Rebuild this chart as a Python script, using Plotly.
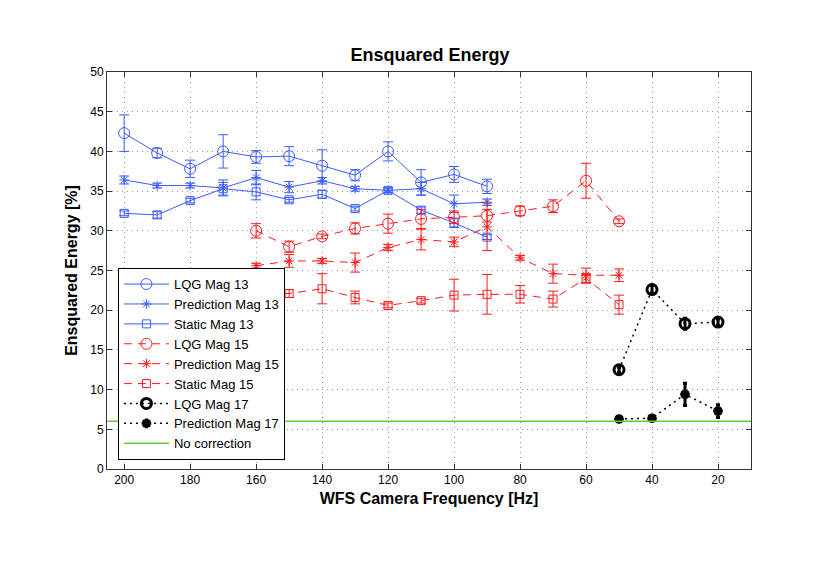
import plotly.graph_objects as go

# ---------------- data ----------------
freq13 = [200, 190, 180, 170, 160, 150, 140, 130, 120, 110, 100, 90]
lqg13 = [42.3, 39.8, 37.8, 40.0, 39.3, 39.4, 38.2, 37.0, 40.0, 36.1, 37.1, 35.6]
lqg13_err = [2.3, 0.6, 1.1, 2.1, 0.8, 1.2, 2.0, 0.7, 1.2, 1.6, 1.0, 0.9]
pred13 = [36.4, 35.7, 35.7, 35.4, 36.7, 35.5, 36.3, 35.3, 35.1, 35.3, 33.4, 33.6]
pred13_err = [0.5, 0.3, 0.3, 1.0, 0.9, 0.7, 0.4, 0.3, 0.3, 0.8, 1.1, 0.4]
static13 = [32.2, 32.0, 33.8, 35.3, 34.9, 33.9, 34.6, 32.8, 35.1, 32.6, 31.0, 29.2]
static13_err = [0.3, 0.4, 0.3, 0.8, 1.0, 0.3, 0.5, 0.3, 0.3, 0.4, 0.6, 0.3]

freq15 = [160, 150, 140, 130, 120, 110, 100, 90, 80, 70, 60, 50]
lqg15 = [30.0, 28.0, 29.3, 30.3, 30.9, 31.5, 31.7, 31.9, 32.5, 33.1, 36.3, 31.2]
lqg15_err = [0.9, 0.7, 0.3, 0.7, 1.2, 1.2, 0.8, 0.8, 0.6, 0.8, 2.2, 0.3]
pred15 = [25.6, 26.2, 26.2, 26.0, 27.9, 28.9, 28.6, 30.5, 26.6, 24.6, 24.4, 24.4]
pred15_err = [0.3, 0.8, 0.3, 1.2, 0.4, 1.3, 0.6, 3.0, 0.3, 1.2, 0.9, 0.8]
static15 = [22.0, 22.1, 22.7, 21.6, 20.6, 21.2, 21.9, 22.0, 22.0, 21.4, 24.0, 20.7]
static15_err = [0.5, 0.5, 1.9, 0.8, 0.3, 0.3, 2.0, 2.5, 1.1, 1.0, 0.6, 1.2]

freq17 = [50, 40, 30, 20]
lqg17 = [12.5, 22.6, 18.3, 18.5]
lqg17_err = [0.3, 0.5, 0.7, 0.4]
pred17 = [6.3, 6.4, 9.4, 7.3]
pred17_err = [0.2, 0.3, 1.4, 0.8]

no_correction = 6.0

x_range = [205.2, 10]
y_range = [0, 50]
x_ticks = [200, 180, 160, 140, 120, 100, 80, 60, 40, 20]
y_ticks = [0, 5, 10, 15, 20, 25, 30, 35, 40, 45, 50]

BLUE = "#3a5cff"
RED = "#ff1a1a"
BLACK = "#000000"
GREEN = "#66cc33"

fig = go.Figure()


def add(name, x, y, err, color, dash, symbol, msize, lw=1, mlw=1, elw=1, ecap=5):
    fig.add_trace(go.Scatter(
        x=x, y=y, name=name, mode="lines+markers",
        line=dict(color=color, width=lw, dash=dash),
        marker=dict(symbol=symbol, size=msize, color=color,
                    line=dict(color=color, width=mlw)),
        error_y=dict(type="data", array=err, visible=True, color=color,
                     thickness=elw, width=ecap),
    ))


add("LQG Mag 13", freq13, lqg13, lqg13_err, BLUE, "solid", "circle-open", 11)
add("Prediction Mag 13", freq13, pred13, pred13_err, BLUE, "solid", "asterisk-open", 8)
add("Static Mag 13", freq13, static13, static13_err, BLUE, "solid", "square-open", 8)
add("LQG Mag 15", freq15, lqg15, lqg15_err, RED, "8px,6px", "circle-open", 11)
add("Prediction Mag 15", freq15, pred15, pred15_err, RED, "8px,6px", "asterisk-open", 8)
add("Static Mag 15", freq15, static15, static15_err, RED, "8px,6px", "square-open", 8)
add("LQG Mag 17", freq17, lqg17, lqg17_err, BLACK, "2px,4px", "circle-open", 10,
    lw=1.5, mlw=3, elw=3, ecap=2)
add("Prediction Mag 17", freq17, pred17, pred17_err, BLACK, "2px,4px", "asterisk-open", 8,
    lw=1.5, mlw=3, elw=3, ecap=2)

fig.add_trace(go.Scatter(
    x=x_range, y=[no_correction, no_correction], name="No correction",
    mode="lines", line=dict(color=GREEN, width=1.5),
))

axis_common = dict(
    showline=True, linecolor="#333333", linewidth=1, mirror="ticks",
    ticks="inside", ticklen=5, tickcolor="#333333",
    showgrid=True, gridcolor="#9a9a9a", gridwidth=1, griddash="1px,4px",
    zeroline=False, automargin=False,
    tickfont=dict(family="Liberation Sans, Arial", size=12, color="black"),
)

# page body has an 8px default margin, so offsets are compensated
fig.update_layout(
    width=830, height=562,
    margin=dict(l=99, r=87, t=64, b=101),
    paper_bgcolor="white", plot_bgcolor="white",
    font=dict(family="Liberation Sans, Arial", color="black"),
    title=dict(text="<b>Ensquared Energy</b>", x=(430 - 8) / 830, xanchor="center",
               y=1 - 47 / 562, yanchor="middle",
               font=dict(size=18, family="Liberation Sans, Arial")),
    xaxis=dict(range=x_range, tickvals=x_ticks, autorange=False,
               title=dict(text="<b>WFS Camera Frequency [Hz]</b>",
                          font=dict(size=16), standoff=6),
               **axis_common),
    yaxis=dict(range=y_range, tickvals=y_ticks,
               title=dict(text="<b>Ensquared Energy [%]</b>",
                          font=dict(size=16), standoff=8),
               **axis_common),
    legend=dict(x=0.017, y=0.506, xanchor="left", yanchor="top",
                bgcolor="white", bordercolor="black", borderwidth=1,
                font=dict(size=13, family="Liberation Sans, Arial"),
                tracegroupgap=0, itemwidth=45),
    showlegend=True,
)

fig.write_html("out.html")
